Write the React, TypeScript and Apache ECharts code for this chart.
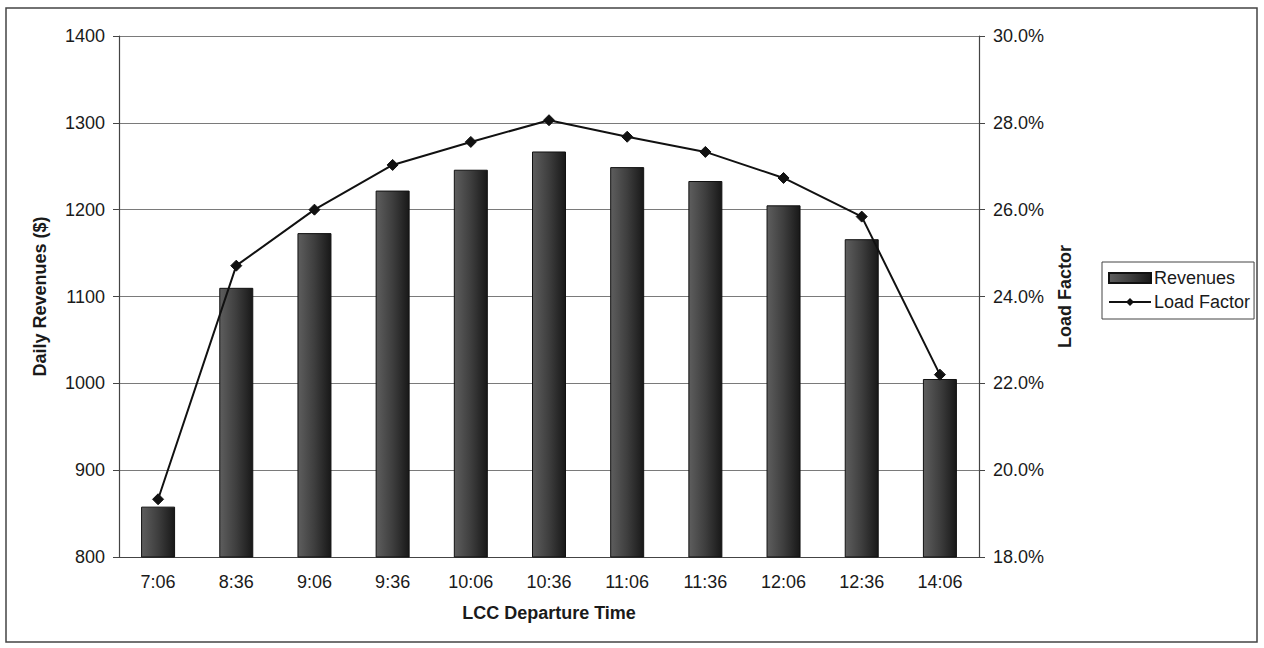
import React, { useEffect, useRef } from "react";
import * as echarts from "echarts";

// Departure times of the LCC flight
const departureTimes = ["7:06", "8:36", "9:06", "9:36", "10:06", "10:36", "11:06", "11:36", "12:06", "12:36", "14:06"];
// Daily revenues in dollars
const revenues = [858, 1110, 1173, 1222, 1246, 1267, 1249, 1233, 1205, 1166, 1005];
// Load factor in percent
const loadFactor = [19.33, 24.71, 26.0, 27.03, 27.56, 28.06, 27.68, 27.33, 26.73, 25.84, 22.2];

const FONT = "'Liberation Sans', Arial, sans-serif";
const TEXT = "#1a1a1a";
const SIZE = 18;

export default function App() {
  const ref = useRef<HTMLDivElement>(null);

  useEffect(() => {
    if (!ref.current) return;
    const chart = echarts.init(ref.current, undefined, { renderer: "svg" });
    chart.setOption({
      animation: false,
      backgroundColor: "#ffffff",
      textStyle: { fontFamily: FONT, color: TEXT },
      graphic: [
        {
          type: "rect",
          shape: { x: 6, y: 8, width: 1251, height: 634 },
          style: { fill: "none", stroke: "#444", lineWidth: 1.5 },
          silent: true,
        },
      ],
      grid: { left: 119, right: 285, top: 36, bottom: 91, containLabel: false },
      legend: {
        orient: "vertical",
        left: 1102,
        top: 262,
        itemWidth: 42,
        itemHeight: 10,
        itemGap: 6,
        padding: [7, 4, 8, 6],
        borderColor: "#444",
        borderWidth: 1,
        textStyle: { fontFamily: FONT, fontSize: SIZE, color: TEXT, padding: [0, 0, 0, -2] },
        data: [
          { name: "Revenues", icon: "rect" },
          { name: "Load Factor" },
        ],
      },
      xAxis: [
        {
          type: "category",
          data: departureTimes,
          boundaryGap: true,
          name: "LCC Departure Time",
          nameLocation: "middle",
          nameGap: 47,
          nameTextStyle: { fontFamily: FONT, fontSize: SIZE, fontWeight: "bold", color: TEXT },
          axisLine: { lineStyle: { color: "#444", width: 1.2 } },
          axisTick: { length: 5, lineStyle: { color: "#444" } },
          axisLabel: { fontFamily: FONT, fontSize: SIZE, color: TEXT, margin: 16 },
        },
        {
          // inner half of the crossing tick marks
          type: "category",
          data: departureTimes,
          position: "bottom",
          boundaryGap: true,
          axisLine: { show: false },
          axisTick: { inside: true, length: 5, lineStyle: { color: "#444" } },
          axisLabel: { show: false },
        },
      ],
      yAxis: [
        {
          type: "value",
          min: 800,
          max: 1400,
          interval: 100,
          name: "Daily Revenues ($)",
          nameLocation: "middle",
          nameGap: 70,
          nameRotate: 90,
          nameTextStyle: { fontFamily: FONT, fontSize: SIZE, fontWeight: "bold", color: TEXT },
          axisLine: { show: true, lineStyle: { color: "#444", width: 1.2 } },
          axisTick: { show: true, length: 6, lineStyle: { color: "#444" } },
          axisLabel: {
            fontFamily: FONT,
            fontSize: SIZE,
            color: TEXT,
            margin: 14,
            formatter: (v: number) => String(v),
          },
          splitLine: { show: true, lineStyle: { color: "#7a7a7a", width: 1 } },
        },
        {
          type: "value",
          min: 18,
          max: 30,
          interval: 2,
          position: "right",
          name: "Load Factor",
          nameLocation: "middle",
          nameGap: 77,
          nameRotate: 90,
          nameTextStyle: { fontFamily: FONT, fontSize: SIZE, fontWeight: "bold", color: TEXT },
          axisLine: { show: true, lineStyle: { color: "#444", width: 1.2 } },
          axisTick: { show: true, length: 6, lineStyle: { color: "#444" } },
          axisLabel: {
            fontFamily: FONT,
            fontSize: SIZE,
            color: TEXT,
            margin: 14,
            formatter: (v: number) => v.toFixed(1) + "%",
          },
          splitLine: { show: false },
        },
      ],
      series: [
        {
          name: "Revenues",
          type: "bar",
          data: revenues,
          barWidth: 34,
          xAxisIndex: 0,
          yAxisIndex: 0,
          itemStyle: {
            color: new echarts.graphic.LinearGradient(0, 0, 1, 0, [
              { offset: 0, color: "#5e5e5e" },
              { offset: 0.5, color: "#3e3e3e" },
              { offset: 1, color: "#181818" },
            ]),
            borderColor: "#111",
            borderWidth: 1,
          },
        },
        {
          name: "Load Factor",
          type: "line",
          data: loadFactor,
          xAxisIndex: 0,
          yAxisIndex: 1,
          symbol: "diamond",
          symbolSize: 11,
          lineStyle: { color: "#111", width: 2 },
          itemStyle: { color: "#111", borderColor: "#111" },
        },
      ],
    });
    return () => chart.dispose();
  }, []);

  return (
    <div
      ref={ref}
      style={{ position: "fixed", left: 0, top: 0, width: 1264, height: 648 }}
    />
  );
}
